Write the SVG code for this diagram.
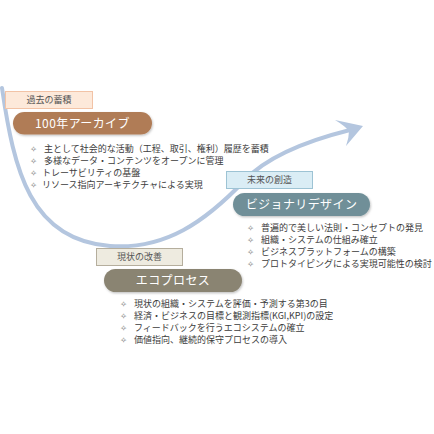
<svg xmlns="http://www.w3.org/2000/svg" width="434" height="434" viewBox="0 0 434 434">
<defs>
<filter id="sh" x="-10%" y="-30%" width="120%" height="170%">
<feDropShadow dx="0.8" dy="1.2" stdDeviation="1" flood-color="#000" flood-opacity="0.25"/>
</filter>
<style>
.lbl{font-family:"Noto Sans CJK JP","Noto Sans",sans-serif;font-size:9px;fill:#555;text-anchor:middle}
.pill{font-family:"Noto Sans CJK JP","Noto Sans",sans-serif;font-size:12px;fill:#fff;text-anchor:middle;letter-spacing:0.4px}
.b{font-family:"Noto Sans CJK JP","Noto Sans",sans-serif;font-size:9px;fill:#3c3c3c}
.bs{font-family:"DejaVu Sans",sans-serif;font-size:8.5px;fill:#666}
</style>
</defs>
<rect width="434" height="434" fill="#fff"/>
<g id="connectors">
<path d="M2,88 C14,170 30,240 110,246 C165,250 205,222 245,180 C268,156 310,140 350,130" fill="none" stroke="#b4c6df" stroke-width="4" stroke-linecap="round"/>
<path d="M363,126 L335,120 Q345,126 349,131 Q349,138 346,146 Z" fill="#b4c6df"/>
</g>
<g id="past">
<rect x="5.5" y="91.5" width="87" height="17" fill="#fde9da" stroke="#f2c3a6"/>
<text class="lbl" x="49" y="103.2">過去の蓄積</text>
</g>
<g id="archive">
<rect x="13" y="112" width="139" height="22.5" rx="11.25" fill="#b07c56" filter="url(#sh)"/>
<text class="pill" x="82.5" y="127.8">100年アーカイブ</text>
<text class="bs" x="30" y="151.5">✧</text><text class="b" x="44" y="151.5">主として社会的な活動（工程、取引、権利）履歴を蓄積</text>
<text class="bs" x="30" y="163.5">✧</text><text class="b" x="44" y="163.5">多様なデータ・コンテンツをオープンに管理</text>
<text class="bs" x="30" y="175.5">✧</text><text class="b" x="42" y="175.5">トレーサビリティの基盤</text>
<text class="bs" x="30" y="187.5">✧</text><text class="b" x="42" y="187.5">リソース指向アーキテクチャによる実現</text>
</g>
<g id="future">
<rect x="226.5" y="171.5" width="86" height="17" fill="#daedf5" stroke="#9dc3d4"/>
<text class="lbl" x="269.5" y="183.2">未来の創造</text>
</g>
<g id="visionary">
<rect x="233" y="193" width="137" height="23" rx="11.5" fill="#6f8f98" filter="url(#sh)"/>
<text class="pill" x="301.5" y="208.8">ビジョナリデザイン</text>
<text class="bs" x="247" y="230.5">✧</text><text class="b" x="261" y="230.5">普遍的で美しい法則・コンセプトの発見</text>
<text class="bs" x="247" y="242.5">✧</text><text class="b" x="261" y="242.5">組織・システムの仕組み確立</text>
<text class="bs" x="247" y="254.5">✧</text><text class="b" x="261" y="254.5">ビジネスプラットフォームの構築</text>
<text class="bs" x="247" y="266.5">✧</text><text class="b" x="261" y="266.5">プロトタイピングによる実現可能性の検討</text>
</g>
<g id="current">
<rect x="96.5" y="248.5" width="86" height="17" fill="#eeebe0" stroke="#b5ae9d"/>
<text class="lbl" x="139.5" y="260.2">現状の改善</text>
</g>
<g id="ecoprocess">
<rect x="104" y="269" width="138" height="23" rx="11.5" fill="#8a8472" filter="url(#sh)"/>
<text class="pill" x="173" y="284.8">エコプロセス</text>
<text class="bs" x="120" y="306.5">✧</text><text class="b" x="134" y="306.5">現状の組織・システムを評価・予測する第3の目</text>
<text class="bs" x="120" y="318.5">✧</text><text class="b" x="134" y="318.5">経済・ビジネスの目標と観測指標(KGI,KPI)の設定</text>
<text class="bs" x="120" y="330.5">✧</text><text class="b" x="134" y="330.5">フィードバックを行うエコシステムの確立</text>
<text class="bs" x="120" y="342.5">✧</text><text class="b" x="134" y="342.5">価値指向、継続的保守プロセスの導入</text>
</g>
</svg>
